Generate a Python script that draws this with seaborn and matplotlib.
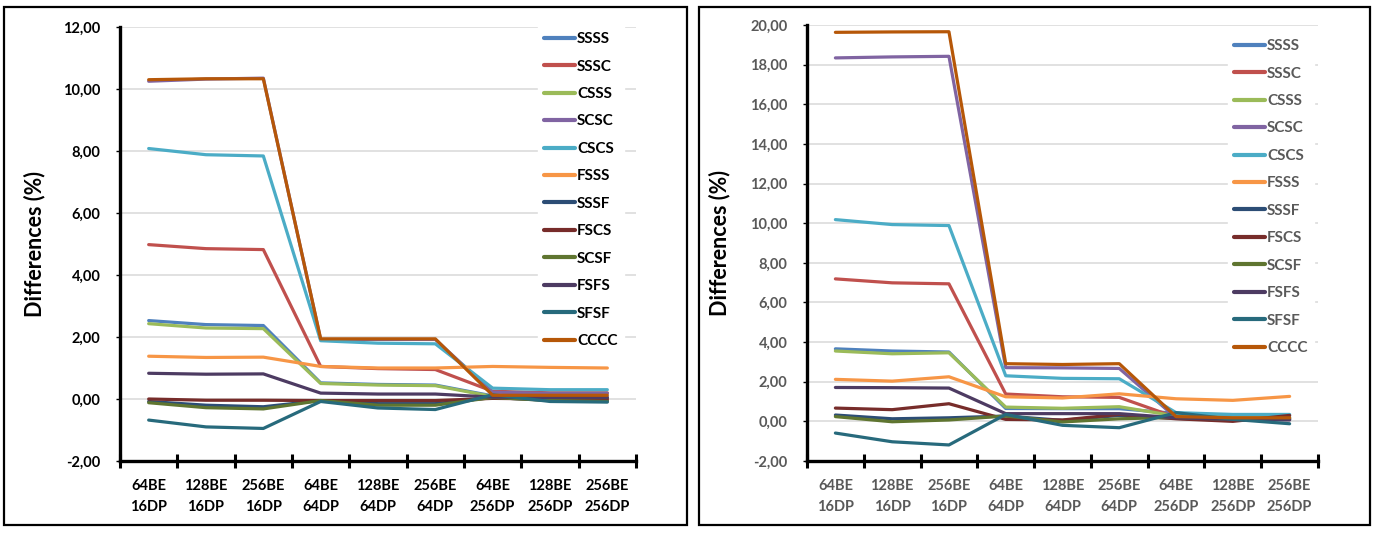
import numpy as np
import pandas as pd
import matplotlib
matplotlib.use("Agg")
import matplotlib.pyplot as plt
from matplotlib.patches import Rectangle
import seaborn as sns

# Benchmark configurations (x axis)
configs = ["64BE\n16DP", "128BE\n16DP", "256BE\n16DP",
           "64BE\n64DP", "128BE\n64DP", "256BE\n64DP",
           "64BE\n256DP", "128BE\n256DP", "256BE\n256DP"]

series_names = ["SSSS", "SSSC", "CSSS", "SCSC", "CSCS", "FSSS",
                "SSSF", "FSCS", "SCSF", "FSFS", "SFSF", "CCCC"]

# Left panel: differences (%)
left_SSSS = [2.53, 2.40, 2.37, 0.52, 0.47, 0.45, 0.10, 0.05, 0.05]
left_SSSC = [4.98, 4.85, 4.82, 1.05, 0.98, 0.95, 0.25, 0.20, 0.20]
left_CSSS = [2.43, 2.29, 2.27, 0.50, 0.45, 0.43, 0.08, 0.00, 0.00]
left_SCSC = [10.25, 10.32, 10.35, 1.92, 1.92, 1.92, 0.22, 0.18, 0.18]
left_CSCS = [8.08, 7.88, 7.84, 1.88, 1.80, 1.78, 0.35, 0.30, 0.30]
left_FSSS = [1.38, 1.34, 1.35, 1.05, 1.00, 1.00, 1.05, 1.02, 1.00]
left_SSSF = [-0.08, -0.20, -0.25, -0.05, -0.15, -0.15, 0.05, -0.05, -0.05]
left_FSCS = [0.00, -0.04, -0.04, -0.05, -0.05, -0.05, 0.02, 0.00, 0.00]
left_SCSF = [-0.12, -0.28, -0.32, -0.05, -0.20, -0.20, 0.05, -0.05, -0.08]
left_FSFS = [0.83, 0.80, 0.81, 0.19, 0.16, 0.16, 0.06, 0.05, 0.05]
left_SFSF = [-0.68, -0.90, -0.95, -0.08, -0.29, -0.34, 0.14, -0.08, -0.10]
left_CCCC = [10.30, 10.33, 10.33, 1.94, 1.94, 1.94, 0.12, 0.12, 0.12]

# Right panel: differences (%)
right_SSSS = [3.66, 3.55, 3.50, 0.65, 0.64, 0.64, 0.40, 0.30, 0.28]
right_SSSC = [7.19, 6.99, 6.94, 1.38, 1.24, 1.21, 0.20, 0.10, 0.10]
right_CSSS = [3.55, 3.41, 3.46, 0.72, 0.66, 0.74, 0.27, 0.20, 0.20]
right_SCSC = [18.34, 18.39, 18.42, 2.71, 2.70, 2.67, 0.18, 0.15, 0.15]
right_CSCS = [10.18, 9.93, 9.88, 2.30, 2.17, 2.15, 0.44, 0.35, 0.35]
right_FSSS = [2.12, 2.03, 2.25, 1.24, 1.18, 1.39, 1.14, 1.06, 1.26]
right_SSSF = [0.32, 0.13, 0.18, 0.27, 0.05, 0.30, 0.15, 0.05, 0.10]
right_FSCS = [0.67, 0.59, 0.89, 0.10, 0.07, 0.35, 0.13, 0.00, 0.30]
right_SCSF = [0.24, -0.02, 0.07, 0.27, -0.03, 0.13, 0.20, 0.10, 0.15]
right_FSFS = [1.71, 1.70, 1.68, 0.39, 0.39, 0.39, 0.18, 0.10, 0.07]
right_SFSF = [-0.59, -1.03, -1.19, 0.35, -0.20, -0.32, 0.44, 0.10, -0.12]
right_CCCC = [19.63, 19.65, 19.66, 2.91, 2.87, 2.91, 0.24, 0.18, 0.18]

left_values = [left_SSSS, left_SSSC, left_CSSS, left_SCSC, left_CSCS, left_FSSS,
               left_SSSF, left_FSCS, left_SCSF, left_FSFS, left_SFSF, left_CCCC]
right_values = [right_SSSS, right_SSSC, right_CSSS, right_SCSC, right_CSCS, right_FSSS,
                right_SSSF, right_FSCS, right_SCSF, right_FSFS, right_SFSF, right_CCCC]

colors = ["#4F81BD", "#C0504D", "#9BBB59", "#8064A2", "#4BACC6", "#F79646",
          "#2C4D75", "#772C2A", "#5F7530", "#4D3B62", "#276A7C", "#B65708"]
palette = dict(zip(series_names, colors))

left_ticks = [-2, 0, 2, 4, 6, 8, 10, 12]
right_ticks = [-2, 0, 2, 4, 6, 8, 10, 12, 14, 16, 18, 20]


def to_long(values):
    rows = []
    for name, vals in zip(series_names, values):
        for i, v in enumerate(vals):
            rows.append({"pos": i, "series": name, "value": v})
    return pd.DataFrame(rows)


sns.set_theme(style="white")
plt.rcParams["font.family"] = ["Lato", "DejaVu Sans"]
plt.rcParams["font.weight"] = "bold"

W, H = 1375, 533
fig = plt.figure(figsize=(W / 100, H / 100), dpi=100)
fig.patch.set_facecolor("white")


def px_axes(x0, x1, ytop, ybot):
    return fig.add_axes([x0 / W, (H - ybot) / H, (x1 - x0) / W, (ybot - ytop) / H])


def draw_panel(ax, values, yticks, text_color, label_x, legend_anchor):
    df = to_long(values)
    sns.lineplot(data=df, x="pos", y="value", hue="series", hue_order=series_names,
                 palette=palette, linewidth=2.3, sort=False, ax=ax, legend=True)
    ax.set_xlim(-0.5, len(configs) - 0.5)
    ax.set_ylim(yticks[0], yticks[-1])
    ax.set_yticks(yticks)
    ax.set_yticklabels([f"{t:.2f}".replace(".", ",") for t in yticks],
                       color=text_color, fontsize=10.5, fontweight="bold")
    ax.yaxis.grid(True, color="#d9d9d9", linewidth=1.1)
    ax.set_axisbelow(True)
    # category boundaries carry the tick marks, centres carry the labels
    ax.set_xticks(np.arange(-0.5, len(configs), 1.0))
    ax.set_xticklabels([])
    ax.set_xticks(np.arange(len(configs)), minor=True)
    ax.set_xticklabels(configs, minor=True, color=text_color, fontsize=10.5,
                       fontweight="bold", linespacing=1.6)
    ax.tick_params(axis="x", which="major", direction="inout", length=10, width=2.2,
                   color="black", bottom=True)
    ax.tick_params(axis="x", which="minor", length=0, pad=13)
    ax.tick_params(axis="y", which="major", direction="out", length=3, width=1,
                   color="black", left=True, pad=11)
    for side in ("top", "right"):
        ax.spines[side].set_visible(False)
    for side in ("left", "bottom"):
        ax.spines[side].set_color("black")
        ax.spines[side].set_linewidth(2.4)
    ax.set_xlabel("")
    ax.set_ylabel("Differences (%)", fontsize=15.5, fontweight="bold", color="black")
    ax.yaxis.set_label_coords(label_x, 0.5)
    handles, labels = ax.get_legend_handles_labels()
    leg = ax.legend(handles, labels, loc="upper left",
                    bbox_to_anchor=legend_anchor, bbox_transform=fig.transFigure,
                    frameon=True, facecolor="white", edgecolor="white", framealpha=1,
                    fancybox=False, fontsize=11, handlelength=2.0, handletextpad=0.15,
                    labelspacing=0.88, borderpad=0.4, borderaxespad=0)
    for t in leg.get_texts():
        t.set_color(text_color)
        t.set_fontweight("bold")
    for line in leg.get_lines():
        line.set_linewidth(3)


ax_left = px_axes(120, 636, 27, 461)
draw_panel(ax_left, left_values, left_ticks, "black", (45 - 120) / 516,
           (538 / W, (H - 26) / H))

ax_right = px_axes(807, 1318, 25, 461)
draw_panel(ax_right, right_values, right_ticks, "#595959", (730 - 807) / 511,
           (1228 / W, (H - 33) / H))

# outer frames around each panel
for x0, x1 in ((4, 687), (699, 1370)):
    fig.add_artist(Rectangle((x0 / W, (H - 525) / H), (x1 - x0) / W, (525 - 7) / H,
                             transform=fig.transFigure, fill=False,
                             edgecolor="black", linewidth=1.6))

fig.savefig("out.png", dpi=100, facecolor="white")
